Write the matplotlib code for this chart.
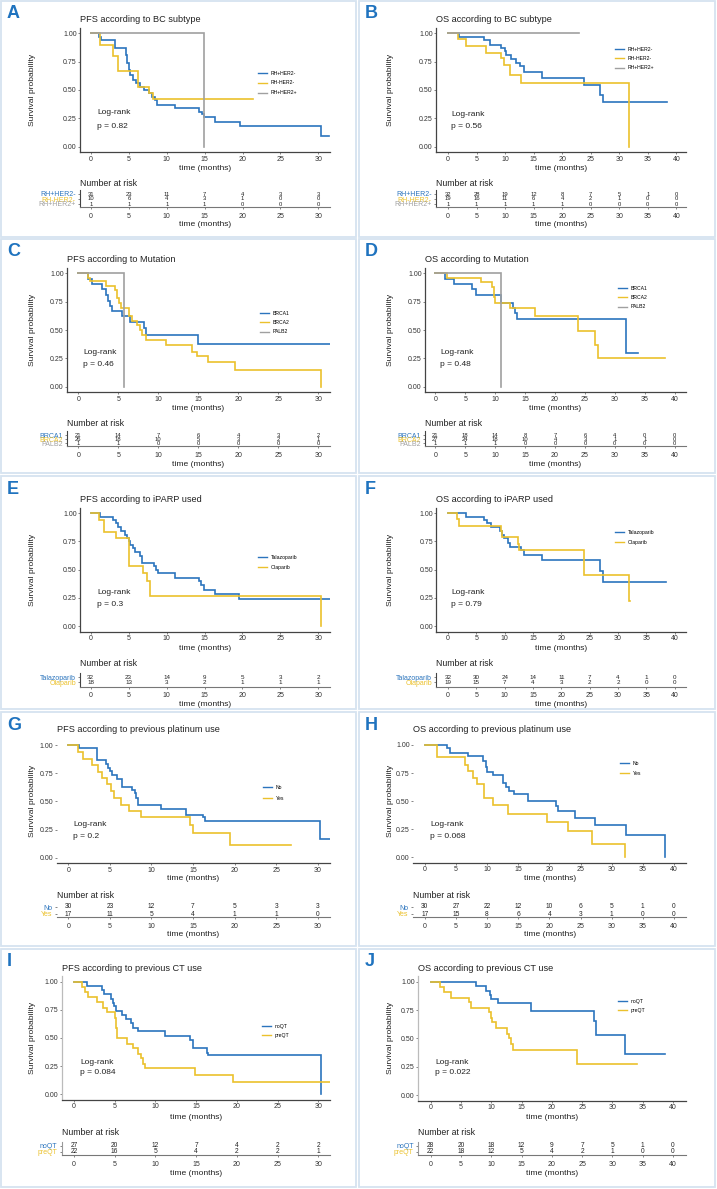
import matplotlib
matplotlib.use('Agg')
import matplotlib.pyplot as plt
from matplotlib.patches import Rectangle
from matplotlib.lines import Line2D

plt.rcParams['font.family'] = ['Liberation Sans', 'DejaVu Sans']

BLUE = '#2b74bd'
YEL = '#ebc12c'
GRAY = '#a0a0a0'

# ---- data ----
# A  PFS by BC subtype
A1_t = [0, 1.0, 1.3, 3.2, 4.6, 4.8, 5.0, 5.2, 5.5, 5.9, 6.5, 7.0, 7.6, 8.0, 8.4, 8.7, 11.1, 14.2, 14.6, 14.9, 16.4, 19.6, 30.4, 31.4]
A1_s = [1, 0.97, 0.94, 0.87, 0.81, 0.74, 0.68, 0.63, 0.59, 0.56, 0.53, 0.50, 0.47, 0.44, 0.41, 0.37, 0.34, 0.31, 0.29, 0.26, 0.22, 0.18, 0.09, 0.09]
A2_t = [0, 1.2, 2.9, 3.6, 6.2, 7.7, 8.2, 21.4]
A2_s = [1, 0.9, 0.8, 0.67, 0.53, 0.47, 0.42, 0.42]
A3_t = [0, 14.9]
A3_s = [1, 0]
A_risk1 = [31, 23, 11, 7, 4, 3, 3]
A_risk2 = [10, 6, 4, 3, 1, 0, 0]
A_risk3 = [1, 1, 1, 1, 0, 0, 0]

# B  OS by BC subtype
B1_t = [0, 1.9, 6.3, 7.3, 9.3, 9.9, 10.2, 11.1, 12.0, 12.6, 13.3, 16.5, 23.8, 26.6, 27.2, 38.3]
B1_s = [1, 0.97, 0.94, 0.90, 0.87, 0.84, 0.81, 0.77, 0.74, 0.71, 0.66, 0.61, 0.54, 0.46, 0.39, 0.39]
B2_t = [0, 1.75, 3.2, 6.7, 9.3, 9.75, 10.8, 12.85, 31.8]
B2_s = [1, 0.95, 0.89, 0.83, 0.78, 0.72, 0.63, 0.56, 0]
B3_t = [0, 23.0]
B3_s = [1, 1]
B_risk1 = [32, 28, 19, 12, 8, 7, 5, 1, 0]
B_risk2 = [19, 16, 11, 6, 4, 2, 1, 0, 0]
B_risk3 = [1, 1, 1, 1, 1, 0, 0, 0, 0]

# C  PFS by mutation
C1_t = [0, 1.25, 1.7, 2.9, 3.5, 3.7, 4.0, 4.2, 5.4, 6.5, 8.2, 8.5, 15.0, 31.5]
C1_s = [1, 0.95, 0.91, 0.86, 0.81, 0.76, 0.71, 0.67, 0.62, 0.57, 0.52, 0.46, 0.38, 0.38]
C2_t = [0, 1.25, 1.5, 3.5, 4.6, 4.8, 5.1, 5.3, 6.3, 6.7, 7.3, 7.7, 8.0, 8.5, 11.0, 14.2, 14.8, 16.25, 19.6, 30.3]
C2_s = [1, 0.96, 0.93, 0.89, 0.85, 0.78, 0.74, 0.69, 0.62, 0.58, 0.54, 0.50, 0.46, 0.41, 0.37, 0.31, 0.27, 0.22, 0.15, 0.0]
C3_t = [0, 5.7]
C3_s = [1, 0]
C_risk1 = [21, 14, 7, 6, 4, 3, 2]
C_risk2 = [26, 18, 10, 5, 3, 2, 1]
C_risk3 = [1, 1, 0, 0, 0, 0, 0]

# D  OS by mutation
D1_t = [0, 1.7, 3.2, 6.2, 6.8, 10.9, 13.0, 13.3, 13.6, 31.9, 33.9]
D1_s = [1, 0.95, 0.91, 0.86, 0.81, 0.74, 0.69, 0.65, 0.60, 0.30, 0.30]
D2_t = [0, 2.0, 7.7, 9.4, 9.8, 10.0, 12.4, 16.6, 23.8, 26.7, 27.2, 38.3]
D2_s = [1, 0.96, 0.92, 0.88, 0.79, 0.74, 0.69, 0.62, 0.49, 0.37, 0.25, 0.25]
D3_t = [0, 10.9]
D3_s = [1, 0]
D_risk1 = [21, 18, 14, 8, 7, 6, 4, 0, 0]
D_risk2 = [27, 24, 18, 10, 4, 3, 1, 1, 0]
D_risk3 = [1, 1, 1, 0, 0, 0, 0, 0, 0]

# E  PFS by iPARP
E1_t = [0, 1.2, 3.0, 3.4, 3.6, 4.0, 4.5, 4.75, 5.0, 5.2, 5.6, 5.85, 6.5, 6.7, 8.3, 8.6, 8.9, 11.1, 14.3, 14.6, 14.9, 16.4, 19.6, 31.5]
E1_s = [1, 0.97, 0.94, 0.91, 0.875, 0.84, 0.81, 0.78, 0.75, 0.72, 0.69, 0.66, 0.625, 0.56, 0.53, 0.50, 0.47, 0.43, 0.40, 0.36, 0.32, 0.28, 0.24, 0.24]
E2_t = [0, 1.15, 1.75, 3.4, 5.0, 6.9, 7.4, 7.8, 30.3]
E2_s = [1, 0.94, 0.83, 0.78, 0.53, 0.47, 0.40, 0.27, 0.0]
E_risk1 = [32, 23, 14, 9, 5, 3, 2]
E_risk2 = [18, 13, 3, 2, 1, 1, 1]

# F  OS by iPARP
F1_t = [0, 3.2, 6.35, 6.8, 7.65, 9.1, 9.5, 9.8, 10.6, 10.9, 12.9, 13.35, 16.6, 26.8, 27.35, 38.5]
F1_s = [1, 0.97, 0.94, 0.91, 0.875, 0.84, 0.81, 0.78, 0.74, 0.70, 0.67, 0.63, 0.59, 0.49, 0.39, 0.39]
F2_t = [0, 1.65, 1.95, 9.3, 9.5, 12.35, 12.6, 24.0, 32.0, 32.2]
F2_s = [1, 0.95, 0.89, 0.84, 0.79, 0.73, 0.67, 0.45, 0.22, 0.22]
F_risk1 = [32, 30, 24, 14, 11, 7, 4, 1, 0]
F_risk2 = [19, 15, 7, 4, 3, 2, 2, 0, 0]

# G  PFS by previous platinum
G1_t = [0, 1.3, 3.5, 4.5, 4.8, 5.0, 5.2, 5.8, 6.5, 7.7, 8.0, 8.2, 8.4, 11.2, 14.2, 16.2, 16.4, 30.3, 31.5]
G1_s = [1, 0.97, 0.87, 0.83, 0.80, 0.77, 0.73, 0.70, 0.63, 0.60, 0.57, 0.53, 0.47, 0.43, 0.38, 0.36, 0.33, 0.165, 0.165]
G2_t = [0, 1.2, 1.8, 2.9, 3.6, 4.1, 4.7, 5.1, 5.5, 6.3, 7.3, 8.7, 14.6, 14.95, 19.5, 26.75]
G2_s = [1, 0.94, 0.88, 0.82, 0.76, 0.71, 0.65, 0.59, 0.53, 0.47, 0.41, 0.36, 0.29, 0.22, 0.11, 0.11]
G_risk1 = [30, 23, 12, 7, 5, 3, 3]
G_risk2 = [17, 11, 5, 4, 1, 1, 0]

# H  OS by previous platinum
H1_t = [0, 3.5, 4.0, 6.95, 9.35, 9.9, 10.05, 11.0, 12.6, 13.1, 13.6, 14.4, 16.6, 21.1, 21.4, 24.1, 27.4, 32.35, 38.5]
H1_s = [1, 0.97, 0.93, 0.90, 0.86, 0.80, 0.76, 0.73, 0.66, 0.63, 0.59, 0.56, 0.50, 0.46, 0.41, 0.35, 0.29, 0.195, 0.0]
H2_t = [0, 1.9, 6.5, 7.0, 7.75, 8.45, 9.5, 11.0, 13.4, 19.7, 23.0, 26.9, 32.1]
H2_s = [1, 0.89, 0.82, 0.77, 0.71, 0.65, 0.53, 0.47, 0.39, 0.31, 0.235, 0.12, 0.0]
H_risk1 = [30, 27, 22, 12, 10, 6, 5, 1, 0]
H_risk2 = [17, 15, 8, 6, 4, 3, 1, 0, 0]

# I  PFS by previous CT
I1_t = [0, 1.6, 3.4, 3.7, 4.6, 4.75, 4.95, 5.2, 5.85, 6.35, 6.95, 7.3, 7.8, 11.2, 14.25, 14.6, 14.65, 16.3, 16.4, 30.3]
I1_s = [1, 0.96, 0.93, 0.89, 0.85, 0.81, 0.78, 0.74, 0.70, 0.67, 0.63, 0.59, 0.56, 0.52, 0.48, 0.44, 0.41, 0.37, 0.35, 0.0]
I2_t = [0, 1.0, 1.35, 1.75, 2.8, 3.6, 4.0, 5.0, 5.15, 5.3, 6.45, 7.3, 7.9, 8.2, 8.5, 8.7, 14.85, 19.55, 31.4]
I2_s = [1, 0.95, 0.91, 0.86, 0.82, 0.77, 0.73, 0.68, 0.59, 0.50, 0.45, 0.41, 0.36, 0.32, 0.27, 0.23, 0.17, 0.11, 0.11]
I_risk1 = [27, 20, 12, 7, 4, 2, 2]
I_risk2 = [22, 16, 5, 4, 2, 2, 1]

# J  OS by previous CT
J1_t = [0, 7.5, 9.2, 9.75, 10.0, 11.1, 16.6, 27.0, 27.35, 32.0, 38.6]
J1_s = [1, 0.96, 0.92, 0.88, 0.85, 0.81, 0.74, 0.65, 0.53, 0.36, 0.36]
J2_t = [0, 1.5, 2.2, 3.4, 6.4, 6.7, 9.6, 9.9, 10.2, 10.8, 12.6, 12.9, 13.2, 13.6, 24.1, 34.1]
J2_s = [1, 0.95, 0.91, 0.86, 0.82, 0.77, 0.73, 0.68, 0.64, 0.59, 0.54, 0.50, 0.45, 0.40, 0.27, 0.27]
J_risk1 = [28, 20, 18, 12, 9, 7, 5, 1, 0]
J_risk2 = [22, 18, 12, 5, 4, 2, 1, 0, 0]

subtype_names = ['RH+HER2-', 'RH-HER2-', 'RH+HER2+']
mutation_names = ['BRCA1', 'BRCA2', 'PALB2']
parp_names = ['Talazoparib', 'Olaparib']
plat_names = ['No', 'Yes']
ct_names = ['noQT', 'preQT']

titles = {'A': 'PFS according to BC subtype', 'B': 'OS according to BC subtype',
          'C': 'PFS according to Mutation', 'D': 'OS according to Mutation',
          'E': 'PFS according to iPARP used', 'F': 'OS according to iPARP used',
          'G': 'PFS according to previous platinum use', 'H': 'OS according to previous platinum use',
          'I': 'PFS according to previous CT use', 'J': 'OS according to previous CT use'}
pvals = {'A': '0.82', 'B': '0.56', 'C': '0.46', 'D': '0.48', 'E': '0.3',
         'F': '0.79', 'G': '0.2', 'H': '0.068', 'I': '0.084', 'J': '0.022'}

panels = {
    'A': ([(A1_t, A1_s), (A2_t, A2_s), (A3_t, A3_s)], subtype_names, [A_risk1, A_risk2, A_risk3], 30),
    'B': ([(B1_t, B1_s), (B2_t, B2_s), (B3_t, B3_s)], subtype_names, [B_risk1, B_risk2, B_risk3], 40),
    'C': ([(C1_t, C1_s), (C2_t, C2_s), (C3_t, C3_s)], mutation_names, [C_risk1, C_risk2, C_risk3], 30),
    'D': ([(D1_t, D1_s), (D2_t, D2_s), (D3_t, D3_s)], mutation_names, [D_risk1, D_risk2, D_risk3], 40),
    'E': ([(E1_t, E1_s), (E2_t, E2_s)], parp_names, [E_risk1, E_risk2], 30),
    'F': ([(F1_t, F1_s), (F2_t, F2_s)], parp_names, [F_risk1, F_risk2], 40),
    'G': ([(G1_t, G1_s), (G2_t, G2_s)], plat_names, [G_risk1, G_risk2], 30),
    'H': ([(H1_t, H1_s), (H2_t, H2_s)], plat_names, [H_risk1, H_risk2], 40),
    'I': ([(I1_t, I1_s), (I2_t, I2_s)], ct_names, [I_risk1, I_risk2], 30),
    'J': ([(J1_t, J1_s), (J2_t, J2_s)], ct_names, [J_risk1, J_risk2], 40),
}
colors = [BLUE, YEL, GRAY]

# ---- layout in pixels, relative to each cell ----
# cell, L, R, p0, pT, y1, y0, title_y, letter_y, xlab_y, leg_x, leg_cy, leg_sp, lr_x, lr_y1, lr_y2, nar_y, r0, dr, line, tab_xlab, spine
lay = {
    'A': ((0, 0), 80, 330, 91, 318.3, 33.3, 146.7, 20, 13, 169, 258, 83, 11, 97, 113, 126, 184, 194, 5, 207, 224, 'dark'),
    'B': ((358, 0), 78, 328, 90, 318.3, 33.3, 146.7, 20, 13, 169, 257, 58.5, 10.5, 93, 114, 127, 184, 194, 5, 207, 224, 'dark'),
    'C': ((0, 236), 67, 330, 78.3, 318.3, 37.3, 150.7, 23.3, 15, 173, 260, 86.5, 10.5, 83, 117, 128, 188, 199.3, 4, 210, 228.3, 'dark'),
    'D': ((358, 236), 67, 328, 77.3, 316.7, 37.3, 150.7, 23.3, 15, 173, 260, 61.5, 10.5, 82, 117, 128, 188, 199.3, 4, 210, 228.3, 'dark'),
    'E': ((0, 470), 80, 330, 90.7, 318.3, 43.3, 156, 29.3, 20, 178, 258, 92.5, 11, 97, 123, 135, 194, 207.3, 5, 216.7, 234.3, 'dark'),
    'F': ((358, 470), 78.3, 328.3, 90, 316.7, 43.3, 156, 29.3, 20, 178, 257, 67.5, 11, 93, 123, 135, 194, 207.3, 5, 216.7, 234.3, 'dark'),
    'G': ((0, 705), 56.7, 330, 68.3, 317.7, 40, 152.7, 25, 20, 174, 263, 88, 12, 73, 119, 131, 190.7, 202, 7, 212.3, 230, 'none'),
    'H': ((358, 705), 55, 328.3, 66.7, 316, 40, 152.3, 25, 20, 174, 262, 63.5, 11, 72, 119, 131, 190.7, 202, 7, 212.3, 230, 'none'),
    'I': ((0, 940), 61.7, 330, 74, 318.3, 41.7, 154.3, 28.3, 22, 177.7, 262, 91, 10, 80, 122, 133, 192.7, 205.7, 6, 215, 233.3, 'light'),
    'J': ((358, 940), 60, 328.3, 72.7, 315, 41.7, 155, 28.3, 22, 177.7, 260, 66, 10, 77, 122, 133, 192.7, 205.7, 6, 215, 233.3, 'light'),
}
cells_y = [(1, 237), (239, 473), (476, 709), (712, 946), (949, 1187)]
cells_x = [(1, 356), (359, 715)]

W, H = 717, 1189
fig = plt.figure(figsize=(W / 100, H / 100), dpi=100)


def fx(px):
    return px / W


def fy(py):
    return 1 - py / H


def rect(l, t, r, b):
    return [l / W, 1 - b / H, (r - l) / W, (b - t) / H]


for (yt, yb) in cells_y:
    for (xl, xr) in cells_x:
        fig.add_artist(Rectangle((fx(xl), fy(yb)), (xr - xl) / W, (yb - yt) / H,
                                 transform=fig.transFigure, fill=False, ec='#d6e3f0', lw=1.3))

for key, (curves, names, risks, tmax) in panels.items():
    (cx, cy), L, R, p0, pT, y1, y0, t_y, let_y, xl_y, lg_x, lg_cy, lg_sp, lr_x, lr1, lr2, nar_y, r0, dr, line, tx_y, spine = lay[key]
    scale = (pT - p0) / tmax
    xlim = ((L - p0) / scale, (R - p0) / scale)
    u = y0 - y1
    top = y1 - 0.05 * u
    bot = y0 + 0.05 * u
    ax = fig.add_axes(rect(cx + L, cy + top, cx + R, cy + bot))
    ax.set_xlim(*xlim)
    ax.set_ylim(-0.05, 1.05)
    handles = []
    for (t, s), c, nm in zip(curves, colors, names):
        ax.step(t, s, where='post', color=c, lw=1.2, solid_joinstyle='miter')
        handles.append(Line2D([], [], color=c, lw=1.0))
    ax.set_xticks(range(0, tmax + 1, 5))
    ax.set_yticks([0, 0.25, 0.5, 0.75, 1.0])
    ax.set_yticklabels(['0.00', '0.25', '0.50', '0.75', '1.00'])
    ax.tick_params(labelsize=5, length=1.5, width=0.5, pad=0.8, colors='#555555', labelcolor='#333333')
    for sp in ['top', 'right']:
        ax.spines[sp].set_visible(False)
    ax.spines['bottom'].set_color('#444444')
    ax.spines['bottom'].set_linewidth(0.9)
    if spine == 'dark':
        ax.spines['left'].set_color('#444444')
        ax.spines['left'].set_linewidth(0.9)
    elif spine == 'light':
        ax.spines['left'].set_color('#bbbbbb')
        ax.spines['left'].set_linewidth(0.9)
    else:
        ax.spines['left'].set_visible(False)
    ax.patch.set_alpha(0)

    fs = 3.7
    fs_px = fs * 100 / 72
    ax.legend(handles, names, loc='center left',
              bbox_to_anchor=(fx(cx + lg_x), fy(cy + lg_cy)), bbox_transform=fig.transFigure,
              frameon=False, fontsize=fs, handlelength=9 / fs_px, handletextpad=0.8,
              labelspacing=lg_sp / fs_px - 1.17, borderpad=0, borderaxespad=0)

    fig.text(fx(cx + 7), fy(cy + let_y), key, fontsize=13, fontweight='bold', color='#1f73bf',
             ha='left', va='center')
    fig.text(fx(cx + L), fy(cy + t_y), titles[key], fontsize=6.6, color='#222222', ha='left', va='center')
    fig.text(fx(cx + 32), fy(cy + (y1 + y0) / 2), 'Survival probability', fontsize=6.1, rotation=90,
             ha='center', va='center', color='#222222')
    fig.text(fx(cx + (L + R) / 2), fy(cy + xl_y), 'time (months)', fontsize=6.1, ha='center', va='center',
             color='#222222')
    fig.text(fx(cx + lr_x), fy(cy + lr1), 'Log-rank', fontsize=6.0, ha='left', va='center', color='#222222')
    fig.text(fx(cx + lr_x), fy(cy + lr2), 'p = ' + pvals[key], fontsize=6.0, ha='left', va='center',
             color='#222222')

    # risk table
    fig.text(fx(cx + L), fy(cy + nar_y), 'Number at risk', fontsize=6.3, ha='left', va='center', color='#222222')
    ttop = r0 - 4
    tab = fig.add_axes(rect(cx + L, cy + ttop, cx + R, cy + line))
    tab.set_xlim(*xlim)
    tab.set_ylim((r0 - line) / dr, (r0 - ttop) / dr)
    xs = list(range(0, tmax + 1, 5))
    nfs = 4.2 if len(risks) == 3 else min(4.8, dr * 0.9)
    for k, row in enumerate(risks):
        for xv, n in zip(xs, row):
            tab.text(xv, -k, str(n), fontsize=nfs, ha='center', va='center', color='#222222')
    tab.set_xticks(xs)
    tab.set_yticks([-k for k in range(len(risks))])
    tab.set_yticklabels(names)
    tab.tick_params(axis='y', labelsize=5, length=1.5, width=0.5, pad=1.5, colors='#555555')
    tab.tick_params(axis='x', labelsize=5, length=1.5, width=0.5, pad=2.5, colors='#555555', labelcolor='#333333')
    for lab, c in zip(tab.get_yticklabels(), colors):
        lab.set_color(c)
    for sp in ['top', 'right']:
        tab.spines[sp].set_visible(False)
    tab.spines['bottom'].set_color('#777777')
    tab.spines['bottom'].set_linewidth(0.8)
    if spine == 'none':
        tab.spines['left'].set_visible(False)
    else:
        tab.spines['left'].set_color('#444444' if spine == 'dark' else '#999999')
        tab.spines['left'].set_linewidth(0.8)
    tab.patch.set_alpha(0)
    fig.text(fx(cx + (L + R) / 2), fy(cy + tx_y), 'time (months)', fontsize=6.1, ha='center', va='center',
             color='#222222')

fig.savefig('out.png', dpi=100, facecolor='white')
